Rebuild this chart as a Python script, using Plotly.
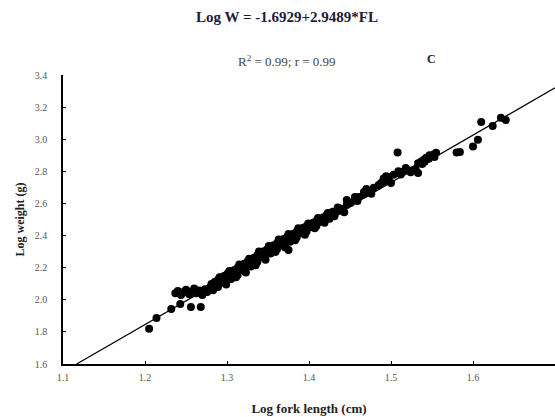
import plotly.graph_objects as go

# Log fork length (cm) and log weight (g) of the sampled fish
log_fl = [
    1.205, 1.214, 1.232, 1.243, 1.256, 1.268,
    1.237, 1.240, 1.244, 1.247, 1.250, 1.254, 1.257, 1.260, 1.263, 1.266, 1.270, 1.273, 1.276, 1.279,
    1.281, 1.281, 1.285, 1.285, 1.289, 1.289, 1.289, 1.293, 1.293, 1.297, 1.297, 1.297,
    1.301, 1.301, 1.305, 1.305, 1.305, 1.309, 1.309, 1.313, 1.313, 1.313, 1.317, 1.317,
    1.321, 1.321, 1.321, 1.325, 1.325, 1.329, 1.329, 1.329, 1.333, 1.333, 1.337, 1.337, 1.337,
    1.341, 1.341, 1.345, 1.345, 1.345, 1.349, 1.349, 1.353, 1.353, 1.353, 1.357, 1.357,
    1.361, 1.361, 1.361, 1.365, 1.365, 1.369, 1.369, 1.369, 1.373, 1.373, 1.377, 1.377, 1.377, 1.375,
    1.381, 1.381, 1.385, 1.385, 1.385, 1.389, 1.389, 1.393, 1.393, 1.397, 1.397, 1.397,
    1.401, 1.401, 1.405, 1.405, 1.409, 1.409, 1.409, 1.413, 1.413, 1.417, 1.417, 1.421, 1.421,
    1.425, 1.425, 1.425, 1.429, 1.429, 1.433, 1.437, 1.437, 1.441,
    1.446, 1.446, 1.451, 1.456, 1.456, 1.461, 1.467, 1.467, 1.473, 1.479, 1.485,
    1.491, 1.491, 1.497, 1.497, 1.500, 1.503, 1.509, 1.509, 1.515, 1.520, 1.527, 1.533, 1.508,
    1.533, 1.537, 1.540, 1.543, 1.546, 1.549, 1.552, 1.555, 1.541, 1.547, 1.553, 1.538,
    1.580, 1.584, 1.600, 1.606, 1.610, 1.624, 1.634, 1.640,
    1.283, 1.291, 1.299, 1.303, 1.311, 1.315, 1.323, 1.327, 1.335, 1.339, 1.347, 1.351,
    1.359, 1.363, 1.371, 1.375, 1.383, 1.387, 1.395, 1.399, 1.407, 1.411, 1.419, 1.423,
    1.431, 1.435, 1.443, 1.449, 1.459, 1.470, 1.476, 1.488, 1.494, 1.512, 1.518, 1.524, 1.530,
]
log_w = [
    1.820, 1.887, 1.943, 1.974, 1.955, 1.955,
    2.040, 2.055, 2.030, 2.048, 2.062, 2.035, 2.052, 2.070, 2.040, 2.058, 2.030, 2.066, 2.048, 2.075,
    2.070, 2.098, 2.085, 2.110, 2.100, 2.125, 2.080, 2.115, 2.138, 2.128, 2.150, 2.105,
    2.140, 2.165, 2.152, 2.175, 2.130, 2.160, 2.185, 2.175, 2.200, 2.155, 2.188, 2.212,
    2.200, 2.225, 2.180, 2.215, 2.238, 2.228, 2.250, 2.208, 2.240, 2.262, 2.255, 2.278, 2.235,
    2.268, 2.290, 2.280, 2.302, 2.262, 2.295, 2.315, 2.305, 2.328, 2.288, 2.320, 2.340,
    2.332, 2.352, 2.315, 2.345, 2.365, 2.355, 2.378, 2.338, 2.368, 2.390, 2.380, 2.400, 2.362, 2.310,
    2.392, 2.412, 2.405, 2.425, 2.388, 2.415, 2.436, 2.428, 2.448, 2.440, 2.458, 2.425,
    2.452, 2.470, 2.462, 2.480, 2.475, 2.492, 2.460, 2.485, 2.500, 2.495, 2.512, 2.505, 2.525,
    2.520, 2.538, 2.505, 2.532, 2.548, 2.545, 2.555, 2.570, 2.565,
    2.590, 2.622, 2.605, 2.620, 2.640, 2.640, 2.655, 2.672, 2.675, 2.697, 2.715,
    2.735, 2.755, 2.755, 2.765, 2.728, 2.778, 2.790, 2.800, 2.798, 2.808, 2.808, 2.790, 2.917,
    2.850, 2.862, 2.872, 2.885, 2.878, 2.895, 2.905, 2.915, 2.860, 2.900, 2.890, 2.845,
    2.917, 2.921, 2.954, 2.996, 3.108, 3.083, 3.133, 3.120,
    2.060, 2.140, 2.095, 2.180, 2.140, 2.220, 2.170, 2.255, 2.215, 2.300, 2.250, 2.335,
    2.298, 2.375, 2.325, 2.410, 2.370, 2.445, 2.405, 2.475, 2.445, 2.510, 2.480, 2.540,
    2.520, 2.575, 2.545, 2.600, 2.615, 2.690, 2.660, 2.728, 2.770, 2.780, 2.820, 2.795, 2.815,
]

# Fitted length-weight regression: Log W = a + b * Log FL
intercept = -1.6929
slope = 2.9489
r_squared = 0.99
r_value = 0.99

x_ticks = [1.1, 1.2, 1.3, 1.4, 1.5, 1.6, 1.7]
y_ticks = [1.6, 1.8, 2.0, 2.2, 2.4, 2.6, 2.8, 3.0, 3.2, 3.4]

x_min, x_max = 1.1, 1.7
y_min, y_max = 1.6, 3.4

# Fit line spans from where it enters the y range to the right edge
fit_x0 = (y_min - intercept) / slope
fit_x = [fit_x0, x_max]
fit_y = [intercept + slope * v for v in fit_x]

serif = "Liberation Serif, Times New Roman, serif"

fig = go.Figure()
fig.add_trace(go.Scatter(
    x=fit_x, y=fit_y, mode="lines",
    line=dict(color="black", width=1.2),
    showlegend=False, hoverinfo="skip",
))
fig.add_trace(go.Scatter(
    x=log_fl, y=log_w, mode="markers",
    marker=dict(color="black", size=8, line=dict(width=0)),
    showlegend=False,
))

L, R, T, B = 63, 0, 75, 53
W, H = 555, 417

fig.update_layout(
    width=W, height=H,
    margin=dict(l=L, r=R, t=T, b=B),
    paper_bgcolor="white", plot_bgcolor="white",
    font=dict(family=serif, color="#222"),
    xaxis=dict(
        range=[x_min, x_max], tickvals=x_ticks,
        ticktext=[f"{v:.1f}" for v in x_ticks],
        showgrid=False, zeroline=False,
        showline=True, linecolor="black", linewidth=1.6,
        ticks="inside", ticklen=3, tickcolor="black",
        tickfont=dict(size=10, color="#555"),
        ticklabelstandoff=3,
        title=dict(text="<b>Log fork length (cm)</b>", font=dict(size=13, color="#222"), standoff=22),
        automargin=False,
    ),
    yaxis=dict(
        range=[y_min, y_max], tickvals=y_ticks,
        ticktext=[f"{v:.1f}" for v in y_ticks],
        showgrid=False, zeroline=False,
        showline=True, linecolor="black", linewidth=1.6,
        ticks="inside", ticklen=3, tickcolor="black",
        tickfont=dict(size=10, color="#555"),
        ticklabelstandoff=12,
        title=dict(text="<b>Log weight (g)</b>", font=dict(size=12, color="#222"), standoff=8),
        automargin=False,
    ),
)

# Header texts placed by page pixel position (x, y from top-left)
pw, ph = W - L - R, H - T - B


def add_text(text, px, py, size, color):
    fig.add_annotation(
        text=text, x=(px - L) / pw, y=(H - py - B) / ph,
        xref="paper", yref="paper", showarrow=False,
        xanchor="center", yanchor="middle",
        font=dict(size=size, color=color),
    )


add_text(f"<b>Log W = {intercept}+{slope}*FL</b>", 287, 17, 15, "#1c1c3a")
add_text(f"R<sup>2</sup> = {r_squared}; r = {r_value}", 287, 61, 13, "#444")
add_text("<b>C</b>", 431, 59, 12, "#222")

fig.write_html("out.html")
